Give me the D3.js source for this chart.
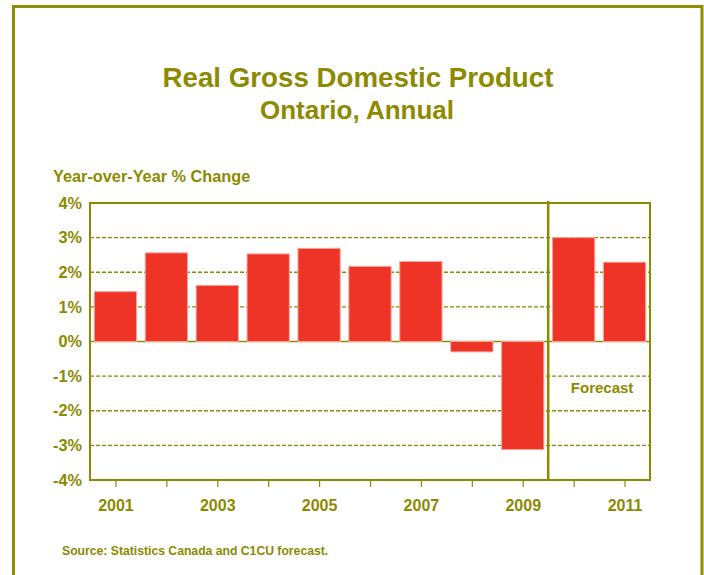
<!DOCTYPE html>
<html>
<head>
<meta charset="utf-8">
<script src="https://cdn.jsdelivr.net/npm/d3@7"></script>
<style>
  body { margin: 0; background: #fff; }
  svg text { font-family: "Liberation Sans", Arial, sans-serif; font-weight: bold; fill: #8c8a00; }
</style>
</head>
<body>
<div id="chart"></div>
<script>
// data
const years = ["2001","2002","2003","2004","2005","2006","2007","2008","2009","2010","2011"];
const gdpChange = [1.44, 2.56, 1.62, 2.53, 2.69, 2.17, 2.31, -0.30, -3.12, 3.0, 2.29];
const yTicks = [-4, -3, -2, -1, 0, 1, 2, 3, 4];
const labelYears = ["2001","2003","2005","2007","2009","2011"];
const forecastFrom = "2010";

const olive = "#8c8a00";
const barColor = "#ee3427";

const W = 704, H = 575;
const plot = {left: 90, top: 203, right: 650, bottom: 480};

const svg = d3.select("#chart").append("svg")
  .attr("width", W)
  .attr("height", H);

// outer frame (bottom runs off the picture)
svg.append("path")
  .attr("d", `M13.5,${H + 5} L13.5,6.5 L702,6.5 L702,${H + 5}`)
  .attr("fill", "none")
  .attr("stroke", "#8f8d00")
  .attr("stroke-width", 3);

// titles
svg.append("text").attr("x", 358).attr("y", 87)
  .attr("text-anchor", "middle").style("font-size", "27.7px")
  .text("Real Gross Domestic Product");
svg.append("text").attr("x", 357).attr("y", 119)
  .attr("text-anchor", "middle").style("font-size", "26px")
  .text("Ontario, Annual");
svg.append("text").attr("x", 53).attr("y", 182)
  .style("font-size", "16.3px")
  .text("Year-over-Year % Change");

const x = d3.scaleBand()
  .domain(years)
  .range([plot.left, plot.right])
  .paddingInner(0.17)
  .paddingOuter(0.085);

const xPos = d3.scalePoint()
  .domain(years)
  .range([plot.left, plot.right])
  .padding(0.5);

const y = d3.scaleLinear()
  .domain([-4, 4])
  .range([plot.bottom, plot.top]);

// gridlines
svg.append("g")
  .selectAll("line")
  .data(yTicks.filter(d => d !== 4 && d !== -4))
  .join("line")
  .attr("x1", plot.left).attr("x2", plot.right)
  .attr("y1", d => y(d)).attr("y2", d => y(d))
  .attr("stroke", olive)
  .attr("stroke-width", 1.3)
  .attr("stroke-dasharray", d => d === 0 ? null : "4,2");

// bars
svg.append("g")
  .selectAll("rect")
  .data(years)
  .join("rect")
  .attr("x", d => x(d))
  .attr("width", x.bandwidth())
  .attr("y", (d, i) => y(Math.max(0, gdpChange[i])))
  .attr("height", (d, i) => Math.abs(y(gdpChange[i]) - y(0)))
  .attr("fill", barColor)
  .attr("stroke", "#f7a49c")
  .attr("stroke-width", 1);

// plot frame
svg.append("rect")
  .attr("x", plot.left).attr("y", plot.top)
  .attr("width", plot.right - plot.left)
  .attr("height", plot.bottom - plot.top)
  .attr("fill", "none")
  .attr("stroke", olive)
  .attr("stroke-width", 2);

// forecast divider
const fx = x(forecastFrom) - x.step() * x.paddingInner() / 2;
svg.append("line")
  .attr("x1", fx).attr("x2", fx)
  .attr("y1", plot.top - 2).attr("y2", plot.bottom)
  .attr("stroke", olive)
  .attr("stroke-width", 2.5);

svg.append("text")
  .attr("x", (fx + plot.right) / 2 + 3).attr("y", 393)
  .attr("text-anchor", "middle")
  .style("font-size", "15px")
  .text("Forecast");

// x axis
const xAxis = svg.append("g")
  .attr("transform", `translate(0,${plot.bottom})`)
  .call(d3.axisBottom(xPos).tickSize(7).tickFormat(d => labelYears.includes(d) ? d : ""));
xAxis.select(".domain").remove();
xAxis.selectAll(".tick line").attr("stroke", olive).attr("stroke-width", 1.2);
xAxis.selectAll(".tick text")
  .attr("y", 20)
  .style("font-size", "16px")
  .attr("fill", olive);

// y axis labels
const yAxis = svg.append("g")
  .attr("transform", `translate(${plot.left},0)`)
  .call(d3.axisLeft(y).tickValues(yTicks).tickSize(0).tickPadding(8).tickFormat(d => d + "%"));
yAxis.select(".domain").remove();
yAxis.selectAll(".tick text")
  .style("font-size", "16.3px")
  .attr("fill", olive);

// source
svg.append("text").attr("x", 62).attr("y", 555)
  .style("font-size", "12.2px")
  .text("Source: Statistics Canada and C1CU forecast.");
</script>
</body>
</html>
